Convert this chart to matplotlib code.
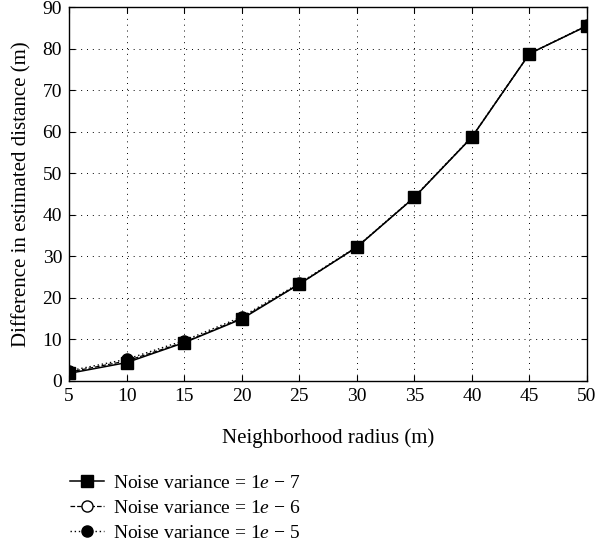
import matplotlib
matplotlib.use("Agg")
import matplotlib.pyplot as plt

# -------------------------------
# Data
# -------------------------------
radius = [5, 10, 15, 20, 25, 30, 35, 40, 45, 50]
diff_1e7 = [1.8, 4.4, 9.2, 14.9, 23.3, 32.2, 44.2, 58.7, 78.8, 85.5]
diff_1e6 = [2.1, 4.8, 9.3, 15.1, 23.3, 32.2, 44.2, 58.7, 78.8, 85.5]
diff_1e5 = [2.4, 5.2, 9.7, 15.4, 23.5, 32.3, 44.3, 58.8, 78.8, 85.6]

labels = [
    r"Noise variance = 1$\mathit{e}$ $-$ 7",
    r"Noise variance = 1$\mathit{e}$ $-$ 6",
    r"Noise variance = 1$\mathit{e}$ $-$ 5",
]
x_ticks = [5, 10, 15, 20, 25, 30, 35, 40, 45, 50]
y_ticks = [0, 10, 20, 30, 40, 50, 60, 70, 80, 90]

plt.rcParams["font.family"] = ["Liberation Serif", "DejaVu Serif"]
plt.rcParams["mathtext.fontset"] = "custom"
plt.rcParams["mathtext.rm"] = "Liberation Serif"
plt.rcParams["mathtext.it"] = "Liberation Serif:italic"
plt.rcParams["font.size"] = 14

fig = plt.figure(figsize=(5.96, 5.48), dpi=100)
ax = fig.add_axes([0.1158, 0.305, 0.8692, 0.682])

# squares sit on top of the circles in the reference
ax.plot(radius, diff_1e7, color="black", linestyle="-", linewidth=1.1,
        marker="s", markersize=8.5, label=labels[0], zorder=5)
ax.plot(radius, diff_1e6, color="black", linestyle="--", linewidth=0.9,
        marker="o", markersize=8, markerfacecolor="white", label=labels[1],
        zorder=3)
ax.plot(radius, diff_1e5, color="black", linestyle=(0, (1, 2)), linewidth=1.0,
        marker="o", markersize=8, label=labels[2], zorder=4)

ax.set_xlim(5, 50)
ax.set_ylim(0, 90)
ax.set_xticks(x_ticks)
ax.set_yticks(y_ticks)
ax.tick_params(direction="in", top=True, right=True, length=4, width=0.8,
               labelsize=14, pad=5)
ax.grid(True, color="black", linestyle=(0, (1, 5)), linewidth=0.7)
for sp in ax.spines.values():
    sp.set_linewidth(1.0)

ax.set_xlabel("Neighborhood radius (m)", fontsize=15, labelpad=17)
ax.set_ylabel("Difference in estimated distance (m)", fontsize=15, labelpad=8)

fig.legend(loc="upper left", bbox_to_anchor=(0.117, 0.135),
           frameon=False, fontsize=14, handlelength=1.75, handletextpad=0.5,
           labelspacing=0.38, borderaxespad=0, borderpad=0)

fig.savefig("out.png", dpi=100)
